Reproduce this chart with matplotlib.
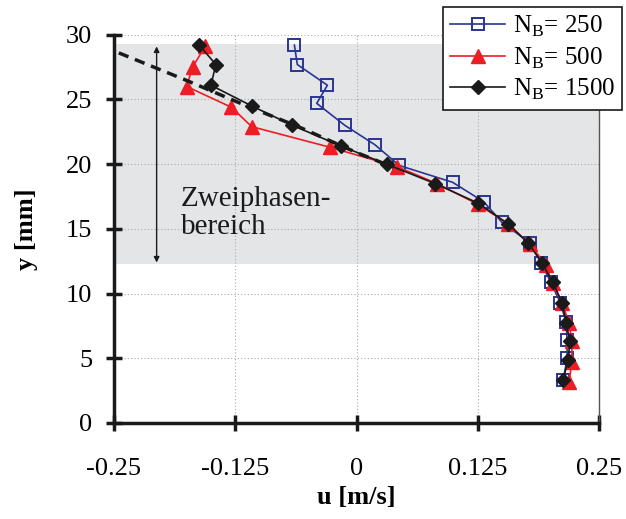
import matplotlib.pyplot as plt

plt.rcParams['font.family'] = ['Liberation Serif', 'DejaVu Serif']
plt.rcParams['mathtext.fontset'] = 'custom'
plt.rcParams['mathtext.rm'] = 'Liberation Serif'

# N_B = 250
u_250 = [-0.064, -0.061, -0.030, -0.041, -0.012, 0.019, 0.044, 0.099, 0.131,
         0.150, 0.179, 0.190, 0.200, 0.210, 0.216, 0.217, 0.217, 0.213]
y_250 = [29.2, 27.7, 26.1, 24.7, 23.0, 21.5, 19.9, 18.6, 17.1,
         15.5, 13.9, 12.4, 10.9, 9.3, 7.8, 6.4, 5.0, 3.3]

# N_B = 500
u_500 = [-0.156, -0.169, -0.175, -0.129, -0.108, -0.027, 0.042, 0.083, 0.125,
         0.156, 0.179, 0.195, 0.202, 0.212, 0.219, 0.222, 0.222, 0.219]
y_500 = [29.1, 27.5, 26.0, 24.4, 22.9, 21.3, 19.8, 18.5, 16.9,
         15.4, 13.8, 12.2, 10.8, 9.3, 7.7, 6.3, 4.7, 3.2]

# N_B = 1500
u_1500 = [-0.162, -0.145, -0.150, -0.108, -0.066, -0.016, 0.031, 0.081, 0.125,
          0.156, 0.177, 0.191, 0.202, 0.212, 0.216, 0.220, 0.218, 0.213]
y_1500 = [29.2, 27.7, 26.1, 24.5, 23.0, 21.4, 20.0, 18.5, 17.0,
          15.4, 13.9, 12.4, 10.9, 9.3, 7.7, 6.3, 4.9, 3.3]

# dashed reference line
u_dash = [-0.245, -0.176, -0.110, -0.060, 0.000, 0.030]
y_dash = [28.6, 26.5, 24.4, 22.9, 20.9, 20.0]

fig = plt.figure(figsize=(6.26, 5.19), dpi=100)
ax = fig.add_axes([0.182, 0.185, 0.775, 0.748])

ax.axhspan(12.3, 29.3, color='#e4e5e7', zorder=0, lw=0)

ax.plot(u_250, y_250, color='#283593', lw=1.2, marker='s', ms=9,
        mfc='none', mec='#283593', mew=1.4, label=r'N$_\mathrm{B}$= 250', zorder=3)
ax.plot(u_500, y_500, color='#ee1c24', lw=1.2, marker='^', ms=10,
        mfc='#ee1c24', mec='#ee1c24', label=r'N$_\mathrm{B}$= 500', zorder=4)
ax.plot(u_1500, y_1500, color='#1a1a1a', lw=1.2, marker='D', ms=7.5,
        mfc='#1a1a1a', mec='#1a1a1a', label=r'N$_\mathrm{B}$= 1500', zorder=5)
ax.plot(u_dash, y_dash, color='#1a1a1a', lw=2.5, ls=(0, (3, 2)), zorder=4)

ax.annotate('', xy=(-0.206, 12.4), xytext=(-0.206, 29.1),
            arrowprops=dict(arrowstyle='<|-|>', color='#1a1a1a', lw=1,
                            mutation_scale=8, shrinkA=0, shrinkB=0))
ax.text(-0.181, 16.2, 'Zweiphasen-\nbereich', fontsize=21, ha='left',
        va='center', linespacing=1.1, color='#1a1a1a')

ax.set_xlim(-0.25, 0.25)
ax.set_ylim(0, 30)
ax.set_xticks([-0.25, -0.125, 0, 0.125, 0.25])
ax.set_xticklabels(['-0.25', '-0.125', '0', '0.125', '0.25'])
ax.set_yticks(range(0, 31, 5))
ax.grid(True, color='#aaaaaa', ls=(0, (1, 2)), lw=0.8)
ax.set_axisbelow(True)

for s in ['left', 'bottom']:
    ax.spines[s].set_linewidth(2.5)
    ax.spines[s].set_color('#1a1a1a')
ax.spines['top'].set_visible(False)
ax.spines['right'].set_color('#555555')
ax.spines['right'].set_linewidth(1)

ax.tick_params(direction='inout', length=11, width=2.5, color='#1a1a1a',
               labelsize=19, top=False, right=False)
ax.tick_params(axis='x', pad=20)
ax.tick_params(axis='y', pad=10)
ax.set_xlabel('u [m/s]', fontsize=19, fontweight='bold', labelpad=4)
ax.set_ylabel('y [mm]', fontsize=19, fontweight='bold', labelpad=20)

leg = ax.legend(loc='upper right', bbox_to_anchor=(0.994, 0.987),
                bbox_transform=fig.transFigure, fontsize=18, frameon=True,
                fancybox=False, edgecolor='#1a1a1a', framealpha=1,
                handlelength=2.2, borderpad=0.3, labelspacing=0.25,
                handletextpad=0.3, borderaxespad=0)
leg.get_frame().set_linewidth(1.2)

fig.savefig('out.png', dpi=100)
